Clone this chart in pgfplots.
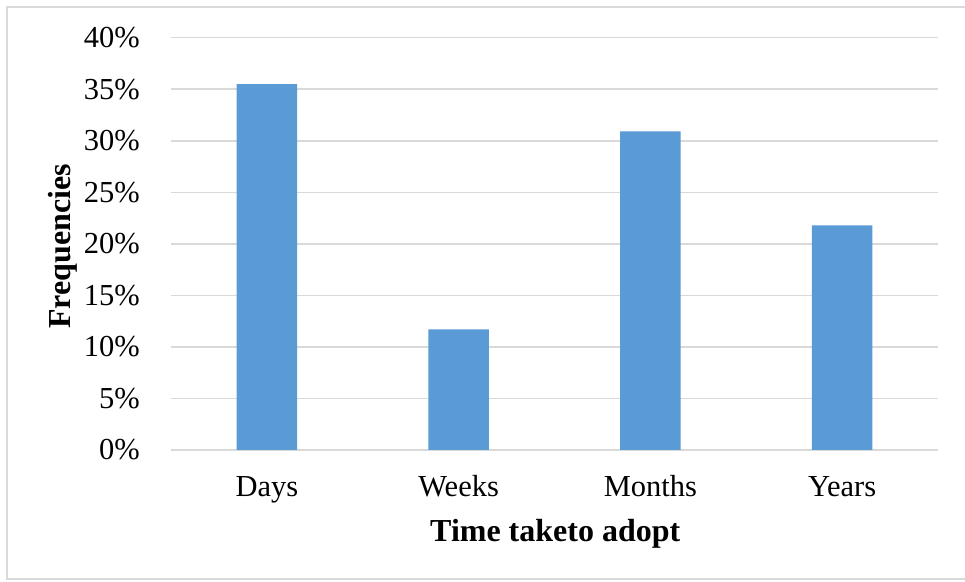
\documentclass[border=0pt]{standalone}
\usepackage{fontspec}
\setmainfont{Liberation Serif}
\usepackage{pgfplots}
\pgfplotsset{compat=1.18}
\definecolor{barblue}{HTML}{5B9BD5}
\definecolor{gridgray}{HTML}{D9D9D9}
\newcommand{\chartfont}{\fontsize{30.5bp}{36bp}\selectfont}
\newcommand{\labelfont}{\fontsize{32bp}{38bp}\selectfont\bfseries}
\begin{document}
\begin{tikzpicture}
\useasboundingbox (0,0) rectangle (965bp,582bp);
\fill[white] (0,0) rectangle (965bp,582bp);
% chart frame (its right side lies beyond the page)
\draw[gridgray, line width=1.2bp] (990bp,3bp) -- (7bp,3bp) -- (7bp,575bp) -- (990bp,575bp);
\begin{axis}[
  at={(171bp,132bp)}, anchor=south west,
  scale only axis, width=767bp, height=412.3bp,
  xmin=-0.5, xmax=3.5, ymin=0, ymax=40,
  axis line style={draw=none},
  tick style={draw=none},
  major tick length=0pt,
  ybar, bar width=60.5bp,
  xtick={0,1,2,3},
  xticklabels={Days,Weeks,Months,Years},
  ytick={0,5,10,15,20,25,30,35,40},
  yticklabels={0\%,5\%,10\%,15\%,20\%,25\%,30\%,35\%,40\%},
  ymajorgrids,
  major grid style={gridgray, line width=1.5bp},
  tick label style={font=\chartfont},
  xticklabel style={anchor=base, yshift=-46bp, inner sep=0pt},
  yticklabel style={anchor=east, xshift=-31bp, inner sep=0pt},
  label style={font=\labelfont},
  xlabel={Time taketo adopt},
  xlabel style={at={(axis description cs:0.501,0)}, anchor=base, yshift=-91.7bp},
  ylabel={Frequencies},
  ylabel style={at={(axis description cs:-0.1304,0.494)}, anchor=base},
]
\addplot[fill=barblue, draw=none] coordinates {
  (0,35.5) (1,11.7) (2,30.9) (3,21.8)
};
\end{axis}
\end{tikzpicture}
\end{document}
